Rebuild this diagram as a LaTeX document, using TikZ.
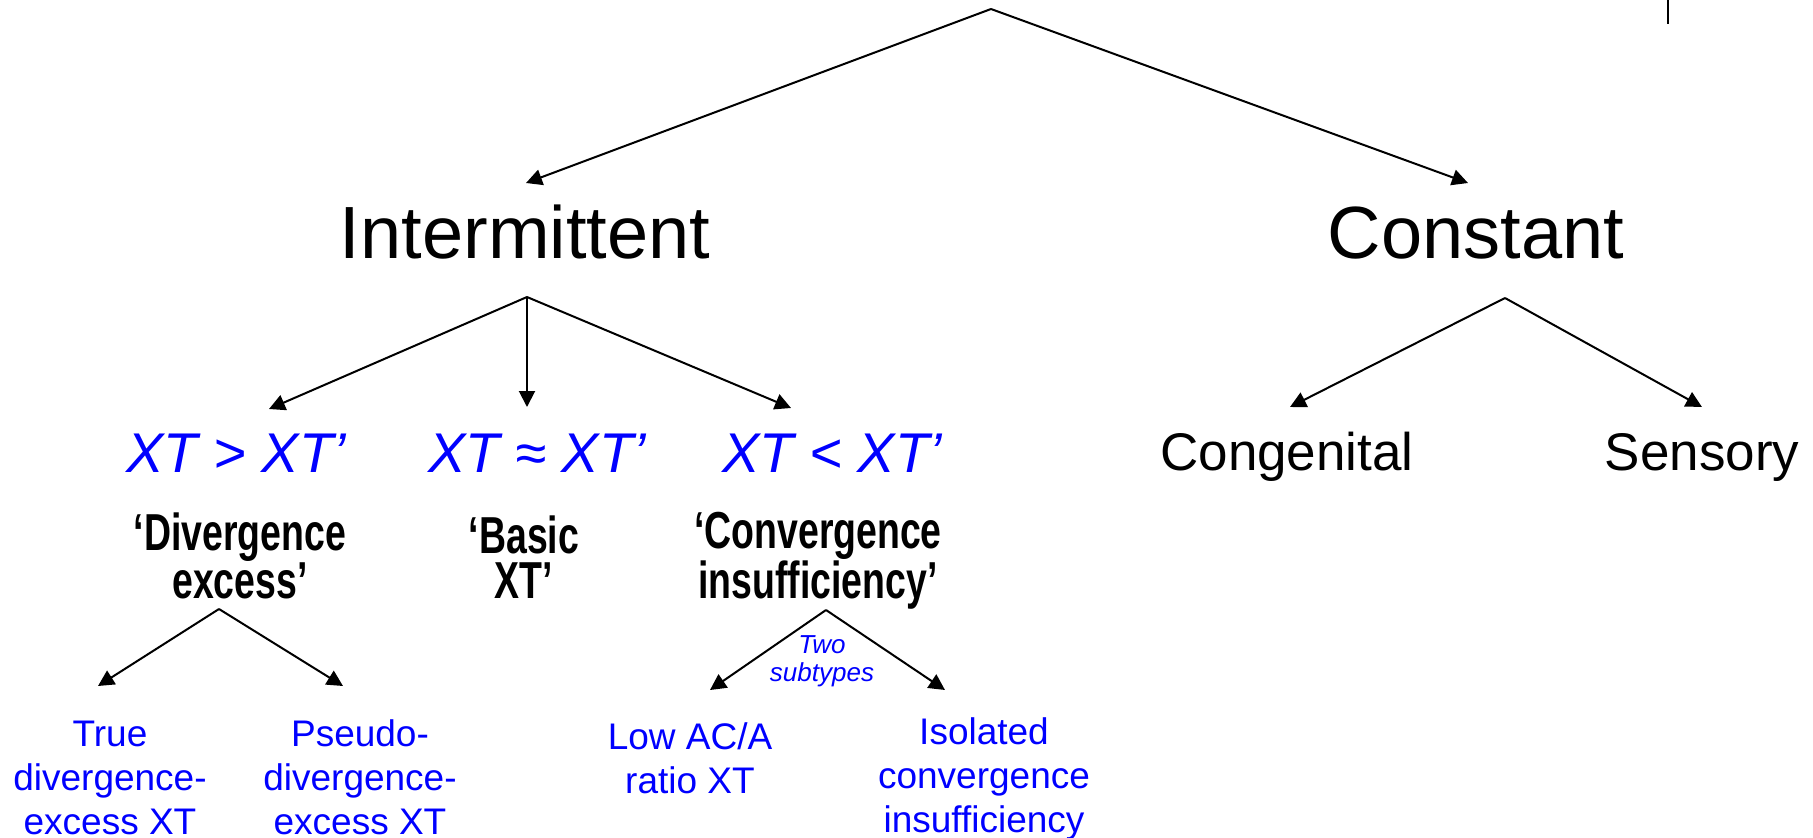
\documentclass[tikz,border=0pt]{standalone}
\usepackage{fontspec}
\setmainfont{Liberation Sans}
\newfontfamily\condfont[FakeStretch=0.72]{Liberation Sans}
\usetikzlibrary{arrows.meta}
\definecolor{labelblue}{RGB}{0,0,255}

\tikzset{
  arr/.style={line width=2pt, -{Triangle[length=16pt,width=16pt]}},
  big/.style={anchor=base, inner sep=0pt, font=\fontsize{74}{80}\selectfont},
  mid/.style={anchor=base, inner sep=0pt, font=\fontsize{53}{60}\selectfont},
  ratio/.style={anchor=base, inner sep=0pt, text=labelblue, font=\fontsize{56}{64}\selectfont\itshape},
  kind/.style={anchor=base, inner sep=0pt, align=center, font=\condfont\bfseries\fontsize{52}{45}\selectfont},
  sub/.style={anchor=base, inner sep=0pt, align=center, text=labelblue, font=\fontsize{37}{44}\selectfont},
  note/.style={anchor=base, inner sep=0pt, align=center, text=labelblue, font=\fontsize{26}{28}\selectfont\itshape},
}

\begin{document}
\begin{tikzpicture}[x=1pt, y=-1pt]
\useasboundingbox (0,0) rectangle (1813,838);

% short mark at the top edge
\draw[line width=2.5pt] (1668,0) -- (1668,24);

% first level
\coordinate (root) at (991,9);
\node[big] (int) at (525,258) {Intermittent};
\node[big] (con) at (1476,258) {Constant};
\coordinate (intTip) at (526,183);
\coordinate (conTip) at (1468,183);
\draw[arr] (root) -- (intTip);
\draw[arr] (root) -- (conTip);

% intermittent branches
\coordinate (intFork) at (527,297);
\node[ratio] (gt) at (236,472) {XT > XT’};
\node[ratio] (ap) at (537,472) {XT ≈ XT’};
\node[ratio] (lt) at (832,472) {XT < XT’};
\coordinate (gtTip) at (269,409);
\coordinate (apTip) at (527,407);
\coordinate (ltTip) at (791,408);
\draw[arr] (intFork) -- (gtTip);
\draw[arr] (intFork) -- (apTip);
\draw[arr] (intFork) -- (ltTip);

% multi-line labels are placed by the baseline of their last line
\node[kind] (de) at (240,598) {‘Divergence\\excess’};
\node[kind] (bx) at (524,598) {‘Basic\\XT’};
\node[kind] (ci) at (818,598) {‘Convergence\\insufficiency’};

% constant branches
\coordinate (conFork) at (1505,298);
\node[mid] (cg) at (1287,470) {Congenital};
\node[mid] (se) at (1702,470) {Sensory};
\coordinate (cgTip) at (1290,407);
\coordinate (seTip) at (1702,407);
\draw[arr] (conFork) -- (cgTip);
\draw[arr] (conFork) -- (seTip);

% divergence excess subtypes
\coordinate (deFork) at (219,609);
\coordinate (tdTip) at (98,686);
\coordinate (pdTip) at (343,686);
\draw[arr] (deFork) -- (tdTip);
\draw[arr] (deFork) -- (pdTip);
\node[sub] (td) at (110,834) {True\\divergence-\\excess XT};
\node[sub] (pd) at (360,834) {Pseudo-\\divergence-\\excess XT};

% convergence insufficiency subtypes
\coordinate (ciFork) at (826,610);
\coordinate (laTip) at (710,690);
\coordinate (icTip) at (945,690);
\draw[arr] (ciFork) -- (laTip);
\draw[arr] (ciFork) -- (icTip);
\node[note] (two) at (822,681) {Two\\subtypes};
\node[sub] (la) at (690,793) {Low AC/A\\ratio XT};
\node[sub] (ic) at (984,832) {Isolated\\convergence\\insufficiency};
\end{tikzpicture}
\end{document}
